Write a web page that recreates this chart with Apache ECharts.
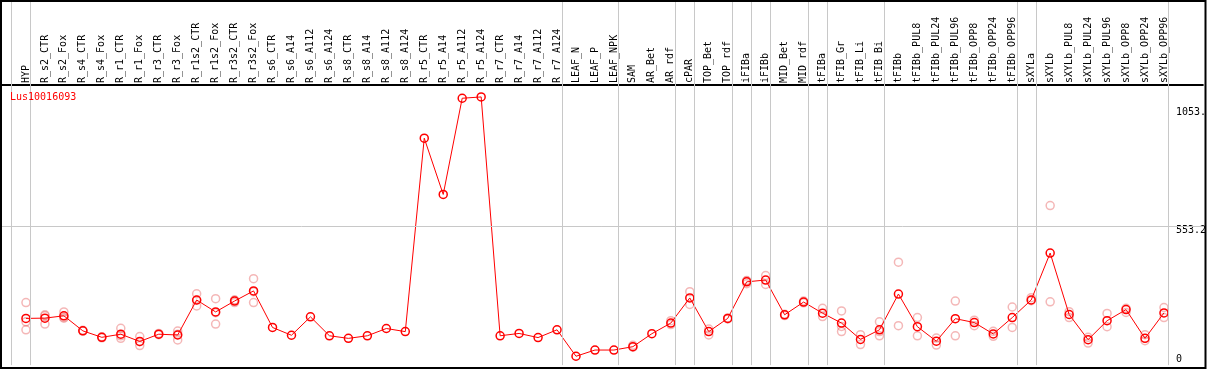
<!DOCTYPE html>
<html>
<head>
<meta charset="utf-8">
<script src="https://cdn.jsdelivr.net/npm/echarts@6/dist/echarts.min.js"></script>
<style>
html, body { margin: 0; padding: 0; background: #fff; }
#chart { width: 1209px; height: 370px; }
</style>
</head>
<body>
<div id="chart"></div>
<script>
let geneName = 'Lus10016093';
let categories = ['HYP', 'R_s2_CTR', 'R_s2_Fox', 'R_s4_CTR', 'R_s4_Fox', 'R_r1_CTR', 'R_r1_Fox',
	'R_r3_CTR', 'R_r3_Fox', 'R_r1s2_CTR', 'R_r1s2_Fox', 'R_r3s2_CTR', 'R_r3s2_Fox',
	'R_s6_CTR', 'R_s6_A14', 'R_s6_A112', 'R_s6_A124', 'R_s8_CTR', 'R_s8_A14', 'R_s8_A112', 'R_s8_A124',
	'R_r5_CTR', 'R_r5_A14', 'R_r5_A112', 'R_r5_A124', 'R_r7_CTR', 'R_r7_A14', 'R_r7_A112', 'R_r7_A124',
	'LEAF_N', 'LEAF_P', 'LEAF_NPK', 'SAM', 'AR_Bet', 'AR_rdf', 'cPAR', 'TOP_Bet', 'TOP_rdf',
	'iFIBa', 'iFIBb', 'MID_Bet', 'MID_rdf', 'tFIBa', 'tFIB_Gr', 'tFIB_Li', 'tFIB_Bi',
	'tFIBb', 'tFIBb_PUL8', 'tFIBb_PUL24', 'tFIBb_PUL96', 'tFIBb_OPP8', 'tFIBb_OPP24', 'tFIBb_OPP96',
	'sXYLa', 'sXYLb', 'sXYLb_PUL8', 'sXYLb_PUL24', 'sXYLb_PUL96', 'sXYLb_OPP8', 'sXYLb_OPP24', 'sXYLb_OPP96'];

// mean expression per sample
let meanValues = [199, 200, 209, 151, 126, 138, 110, 138, 135, 270, 224, 266, 305,
	164, 134, 205, 132, 122, 132, 160, 148,
	894, 677, 1048, 1053, 132, 141, 125, 155,
	53, 77, 77, 90, 140, 181, 278, 148, 199,
	340, 347, 213, 262, 219, 181, 118, 155,
	293, 167, 111, 198, 183, 139, 202,
	270, 451, 214, 117, 190, 233, 122, 220];

// replicate values per sample (faint circles)
let replicates = [[260, 186, 155], [213, 177, 209], [224, 200, 203], [150, 153], [124, 128],
	[161, 122, 132], [129, 94, 109], [136, 141], [150, 116, 138], [294, 247, 269],
	[275, 177, 221], [270, 260, 269], [352, 260, 302],
	[], [], [], [], [], [], [], [],
	[], [], [], [], [], [], [], [],
	[], [], [], [88, 95], [], [190, 175], [302, 253], [158, 135], [197, 201],
	[343, 333, 345], [364, 330], [210, 215], [266, 259], [238, 206], [228, 148, 168], [136, 98], [186, 132, 148],
	[416, 171], [202, 132], [123, 96], [266, 132], [192, 171], [149, 130], [243, 164],
	[279, 267], [634, 263], [225, 202], [126, 104], [218, 167], [238, 222], [136, 113], [241, 202]];

// index of last sample in each group (gray separators)
let groupEnds = [-1, 0, 28, 31, 34, 35, 37, 38, 39, 41, 42, 45, 52, 53, 60];
let yTickValues = [0, 553.2, 1053];
let yTickLabels = ['0', '553.2', '1053.'];
let yGridValue = 553.2;

let monoFont = 'DejaVu Sans Mono';
let xMin = -25 / 19;
let xMax = xMin + 1204 / 19;
let yMax = 1423;
let frameBottomValue = 18.7;

let lineData = meanValues.map((v, i) => [i, v]);
let repData = [];
replicates.forEach((arr, i) => {
	arr.forEach(v => repData.push([i, v]));
});

let separatorLines = groupEnds.map(i => [
	{coord: [i + 0.25, frameBottomValue]},
	{coord: [i + 0.25, yMax]}
]);
separatorLines.push([{coord: [xMin, yGridValue]}, {coord: [xMax, yGridValue]}]);

let labelPads = [[0, 0, 22, 0], [8, 0, 0, 0], [30, 0, 0, 0]];
let rich = {};
labelPads.forEach((p, i) => {
	rich['t' + i] = {padding: p, fontFamily: monoFont, fontSize: 10, color: '#000'};
});

let myChart = echarts.init(document.getElementById('chart'));
let option = {
	animation: false,
	backgroundColor: '#fff',
	title: {
		text: geneName,
		left: 10,
		top: 92,
		padding: 0,
		textStyle: {color: '#ff0000', fontSize: 10, fontWeight: 'normal', fontFamily: monoFont}
	},
	grid: {left: 1, right: 4, top: 1, height: 371.9},
	xAxis: {
		type: 'value',
		position: 'top',
		offset: -84,
		min: xMin,
		max: xMax,
		axisLine: {show: true, onZero: false, lineStyle: {color: '#000', width: 2}},
		axisTick: {show: false},
		splitLine: {show: false},
		axisLabel: {
			customValues: categories.map((c, i) => i),
			rotate: -90,
			margin: 2,
			fontFamily: monoFont,
			fontSize: 10,
			color: '#000',
			formatter: v => categories[Math.round(v)] || ''
		}
	},
	yAxis: {
		type: 'value',
		position: 'right',
		min: 0,
		max: yMax,
		axisLine: {show: false},
		axisTick: {show: false},
		splitLine: {show: false},
		axisLabel: {
			customValues: yTickValues,
			inside: true,
			align: 'left',
			margin: 27,
			verticalAlign: 'middle',
			formatter: v => {
				let idx = yTickValues.indexOf(v);
				return idx < 0 ? '' : '{t' + idx + '|' + yTickLabels[idx] + '}';
			},
			rich: rich
		}
	},
	graphic: [{
		type: 'rect',
		shape: {x: 1, y: 1, width: 1204.5, height: 367},
		style: {fill: 'none', stroke: '#000', lineWidth: 2},
		z: 100
	}],
	series: [
		{
			type: 'scatter',
			data: repData,
			symbol: 'circle',
			symbolSize: 8,
			itemStyle: {color: 'transparent', borderColor: 'rgba(230,90,90,0.55)', borderWidth: 1.5},
			z: 2,
			markLine: {
				silent: true,
				symbol: 'none',
				label: {show: false},
				lineStyle: {color: '#c8c8c8', width: 1, type: 'solid'},
				data: separatorLines
			}
		},
		{
			type: 'line',
			data: lineData,
			symbol: 'circle',
			symbolSize: 8,
			lineStyle: {color: '#ff0000', width: 1},
			itemStyle: {color: 'transparent', borderColor: '#ff0000', borderWidth: 1.5},
			z: 3
		}
	]
};
myChart.setOption(option);
</script>
</body>
</html>
